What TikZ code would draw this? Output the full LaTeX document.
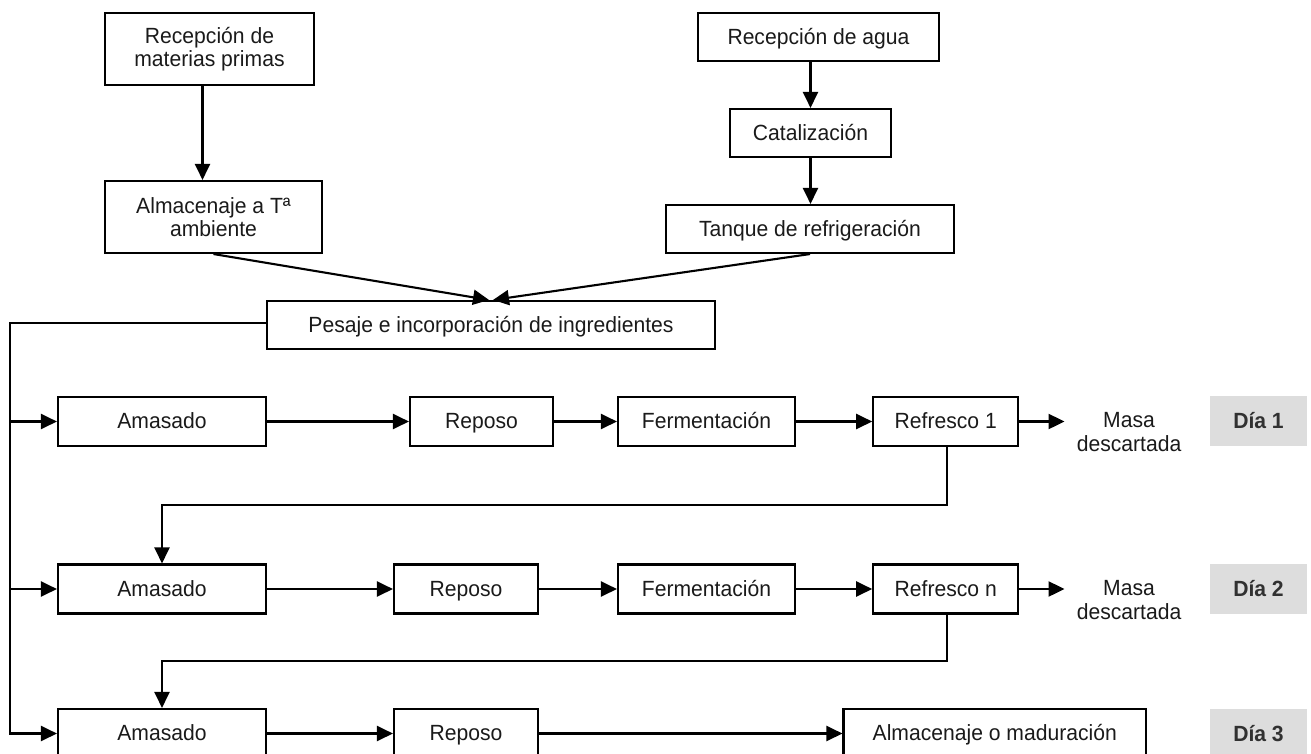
\documentclass[tikz,border=0pt]{standalone}
\usepackage{fontspec}
\setmainfont{Liberation Sans}[FakeStretch=0.96]
\usetikzlibrary{arrows.meta,calc}
\definecolor{diagray}{HTML}{DDDDDD}
\definecolor{txt}{HTML}{1A1A1A}
\begin{document}
\begin{tikzpicture}[x=1pt,y=-1pt,
  every node/.style={font=\fontsize{22pt}{23.5pt}\selectfont, text=txt},
  box/.style={draw=black, line width=2.1pt, align=center, inner sep=0pt, anchor=center},
  sl/.style={text height=17pt, text depth=2.5pt},
  dia/.style={fill=diagray, draw=none, inner sep=0pt, anchor=center, minimum width=97pt, text height=17pt, text depth=2.5pt, font=\fontsize{22pt}{23.5pt}\selectfont\bfseries, text=txt!90},
  conn/.style={line width=2.1pt, draw=black},
  arr/.style={conn, -{Triangle[length=16pt,width=15pt]}},
  masa/.style={align=center, inner sep=0pt, anchor=center}
]
\useasboundingbox (0,0) rectangle (1311,753);
\clip (0,0) rectangle (1311,753);

% top section
\node[box, minimum width=209pt, minimum height=72pt] (rmp) at (209.5,49) {Recepción de\\materias primas};
\node[box, minimum width=217pt, minimum height=72pt] (alm) at (213.5,217) {Almacenaje a Tª\\ambiente};
\node[box, sl, minimum width=241pt, minimum height=48pt] (ra) at (818.5,37) {Recepción de agua};
\node[box, sl, minimum width=161pt, minimum height=48pt] (cat) at (810.5,133) {Catalización};
\node[box, sl, minimum width=288pt, minimum height=48pt] (tan) at (810,229) {Tanque de refrigeración};
\node[box, sl, minimum width=448pt, minimum height=48pt] (pes) at (491,325) {Pesaje e incorporación de ingredientes};

% row 1
\node[box, sl, minimum width=208pt, minimum height=49pt] (am1) at (162,421.5) {Amasado};
\node[box, sl, minimum width=143pt, minimum height=49pt] (re1) at (481.5,421.5) {Reposo};
\node[box, sl, minimum width=177pt, minimum height=49pt] (fe1) at (706.5,421.5) {Fermentación};
\node[box, sl, minimum width=145pt, minimum height=49pt] (rf1) at (945.75,421.5) {Refresco 1};
\node[masa] (ma1) at (1129,432) {Masa\\descartada};
\node[dia, minimum height=50pt] (d1) at (1258.5,421) {Día 1};

% row 2
\node[box, sl, minimum width=208pt, minimum height=49pt] (am2) at (162,589) {Amasado};
\node[box, sl, minimum width=144pt, minimum height=49pt] (re2) at (466,589) {Reposo};
\node[box, sl, minimum width=177pt, minimum height=49pt] (fe2) at (706.5,589) {Fermentación};
\node[box, sl, minimum width=145pt, minimum height=49pt] (rfn) at (945.75,589) {Refresco n};
\node[masa] (ma2) at (1129,600) {Masa\\descartada};
\node[dia, minimum height=50pt] (d2) at (1258.5,589) {Día 2};

% row 3
\node[box, sl, minimum width=208pt, minimum height=49pt] (am3) at (162,733.5) {Amasado};
\node[box, sl, minimum width=144pt, minimum height=49pt] (re3) at (466,733.5) {Reposo};
\node[box, sl, minimum width=302.5pt, minimum height=49pt] (alm3) at (994.75,733.5) {Almacenaje o maduración};
\node[dia, minimum height=50pt] (d3) at (1258.5,734) {Día 3};

% top connectors
\draw[arr] ([xshift=-7pt]rmp.south) -- ([xshift=-7pt]rmp.south |- alm.north);
\draw[arr] (cat.north |- ra.south) -- (cat.north);
\draw[arr] (cat.south) -- (cat.south |- tan.north);
\draw[arr] (alm.south) -- ([xshift=-2pt]pes.north);
\draw[arr] (tan.south) -- ([xshift=2pt]pes.north);

% trunk
\coordinate (tl) at (10,323);
\draw[arr] (pes.west |- tl) -- (tl) -- (tl |- am3.west) -- (am3.west);
\draw[arr] (tl |- am1.west) -- (am1.west);
\draw[arr] (tl |- am2.west) -- (am2.west);

% row 1 connectors
\draw[arr] (am1.east) -- (re1.west);
\draw[arr] (re1.east) -- (fe1.west);
\draw[arr] (fe1.east) -- (rf1.west);
\draw[arr] (rf1.east) -- ([xshift=-12pt]ma1.west |- rf1.east);
\coordinate (fb1) at (0,505);
\draw[arr] ([xshift=1pt]rf1.south) -- ([xshift=1pt]rf1.south |- fb1) -- (am2.north |- fb1) -- (am2.north);

% row 2 connectors
\draw[arr] (am2.east) -- (re2.west);
\draw[arr] (re2.east) -- (fe2.west);
\draw[arr] (fe2.east) -- (rfn.west);
\draw[arr] (rfn.east) -- ([xshift=-12pt]ma2.west |- rfn.east);
\coordinate (fb2) at (0,661);
\draw[arr] ([xshift=1pt]rfn.south) -- ([xshift=1pt]rfn.south |- fb2) -- (am3.north |- fb2) -- (am3.north);

% row 3 connectors
\draw[arr] (am3.east) -- (re3.west);
\draw[arr] (re3.east) -- (alm3.west);
\end{tikzpicture}
\end{document}
